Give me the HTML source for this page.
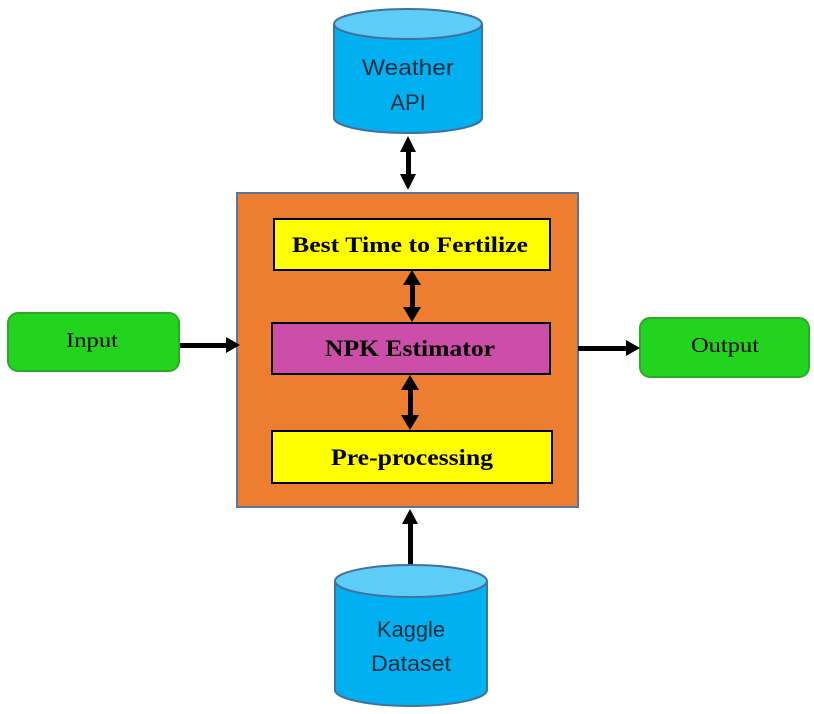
<!DOCTYPE html>
<html><head><style>body{margin:0;background:#fff}</style></head><body>
<svg width="814" height="709" xmlns="http://www.w3.org/2000/svg">
<!-- Weather cylinder -->
<path d="M334,24 L334,118 A74,15 0 0 0 482,118 L482,24" fill="#00b0f0" stroke="#41719c" stroke-width="2"/>
<ellipse cx="408" cy="24" rx="74" ry="15" fill="#5dcdf7" stroke="#41719c" stroke-width="2"/>
<text x="408" y="75" font-family="Liberation Sans, sans-serif" font-size="22" fill="#1f2d3d" text-anchor="middle" textLength="92" lengthAdjust="spacingAndGlyphs">Weather</text>
<text x="408" y="110" font-family="Liberation Sans, sans-serif" font-size="22" fill="#1f2d3d" text-anchor="middle">API</text>
<!-- Orange box -->
<rect x="237" y="193" width="341" height="314" fill="#ed7d31" stroke="#5a7896" stroke-width="2"/>
<rect x="274" y="219" width="276" height="51" fill="#ffff00" stroke="#000" stroke-width="2"/>
<text x="410" y="252" font-family="Liberation Serif, serif" font-weight="bold" font-size="22" text-anchor="middle" textLength="236" lengthAdjust="spacingAndGlyphs">Best Time to Fertilize</text>
<rect x="272" y="323" width="278" height="51" fill="#cc4ea8" stroke="#000" stroke-width="2"/>
<text x="410" y="356" font-family="Liberation Serif, serif" font-weight="bold" font-size="23" text-anchor="middle" textLength="170" lengthAdjust="spacingAndGlyphs">NPK Estimator</text>
<rect x="272" y="431" width="280" height="52" fill="#ffff00" stroke="#000" stroke-width="2"/>
<text x="412" y="465" font-family="Liberation Serif, serif" font-weight="bold" font-size="23" text-anchor="middle" textLength="162" lengthAdjust="spacingAndGlyphs">Pre-processing</text>
<!-- Input/Output -->
<rect x="8" y="313" width="171" height="58" rx="10" fill="#22d41e" stroke="#2ea82a" stroke-width="2"/>
<text x="92" y="347" font-family="Liberation Serif, serif" font-size="21" text-anchor="middle" textLength="52" lengthAdjust="spacingAndGlyphs">Input</text>
<rect x="640" y="318" width="169" height="59" rx="10" fill="#22d41e" stroke="#2ea82a" stroke-width="2"/>
<text x="725" y="352" font-family="Liberation Serif, serif" font-size="21" text-anchor="middle" textLength="68" lengthAdjust="spacingAndGlyphs">Output</text>
<!-- Arrows -->
<g fill="#000">
<rect x="406" y="148" width="5" height="30"/>
<polygon points="408,136 400,152 416,152"/><polygon points="408,190 400,174 416,174"/>
<rect x="410" y="282" width="5" height="28"/>
<polygon points="412,270 403,285 421,285"/><polygon points="412,322 403,307 421,307"/>
<rect x="408" y="386" width="5" height="32"/>
<polygon points="410,375 401,390 419,390"/><polygon points="410,430 401,415 419,415"/>
<rect x="180" y="343" width="50" height="5"/>
<polygon points="240,345 226,337 226,353"/>
<rect x="578" y="346" width="50" height="5"/>
<polygon points="640,348 626,340 626,356"/>
<rect x="408" y="522" width="5" height="43"/>
<polygon points="410,509 402,524 418,524"/>
</g>
<!-- Kaggle cylinder -->
<path d="M335,581 L335,690 A76,16 0 0 0 487,690 L487,581" fill="#00b0f0" stroke="#41719c" stroke-width="2"/>
<ellipse cx="411" cy="581" rx="76" ry="16" fill="#5dcdf7" stroke="#41719c" stroke-width="2"/>
<text x="411" y="637" font-family="Liberation Sans, sans-serif" font-size="22" fill="#1f2d3d" text-anchor="middle" textLength="68" lengthAdjust="spacingAndGlyphs">Kaggle</text>
<text x="411" y="671" font-family="Liberation Sans, sans-serif" font-size="22" fill="#1f2d3d" text-anchor="middle" textLength="80" lengthAdjust="spacingAndGlyphs">Dataset</text>
</svg>
</body></html>
